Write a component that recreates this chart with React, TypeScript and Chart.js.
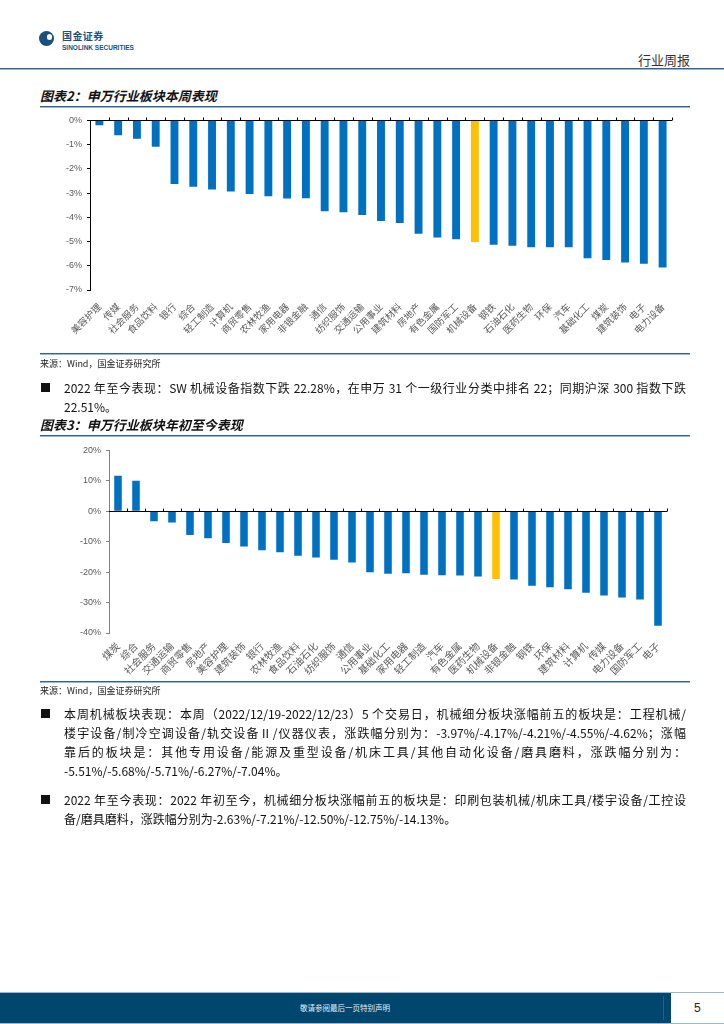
import React, { useEffect, useRef } from "react";
import { Chart, registerables } from "chart.js";

Chart.register(...registerables);

const weekCategories = ["美容护理", "传媒", "社会服务", "食品饮料", "银行", "综合", "轻工制造", "计算机", "商贸零售", "农林牧渔", "家用电器", "非银金融", "通信", "纺织服饰", "交通运输", "公用事业", "建筑材料", "房地产", "有色金属", "国防军工", "机械设备", "钢铁", "石油石化", "医药生物", "环保", "汽车", "基础化工", "煤炭", "建筑装饰", "电子", "电力设备"];
const weekValues = [-0.2, -0.61, -0.76, -1.09, -2.63, -2.74, -2.85, -2.93, -3.04, -3.13, -3.22, -3.21, -3.75, -3.79, -3.9, -4.15, -4.23, -4.68, -4.83, -4.91, -5.02, -5.13, -5.17, -5.24, -5.24, -5.24, -5.69, -5.76, -5.87, -5.92, -6.07];
const weekTicks = { min: -7, max: 0, step: 1 };

const ytdCategories = ["煤炭", "综合", "社会服务", "交通运输", "商贸零售", "房地产", "美容护理", "建筑装饰", "银行", "农林牧渔", "食品饮料", "石油石化", "纺织服饰", "通信", "公用事业", "基础化工", "家用电器", "轻工制造", "汽车", "有色金属", "医药生物", "机械设备", "非银金融", "钢铁", "环保", "建筑材料", "计算机", "传媒", "电力设备", "国防军工", "电子"];
const ytdValues = [11.7, 10.0, -3.3, -3.7, -7.8, -8.9, -10.4, -11.6, -12.8, -13.5, -14.6, -15.2, -15.9, -16.8, -20.0, -20.5, -20.4, -20.9, -21.0, -21.1, -21.4, -22.28, -22.45, -24.5, -25.0, -25.6, -26.8, -27.7, -28.3, -29.0, -37.6];
const ytdTicks = { min: -40, max: 20, step: 10 };

const highlight = "机械设备";
const BLUE = "#0070C0";
const GOLD = "#FFC000";

const zeroLinePlugin = {
  id: "zeroLine",
  afterDatasetsDraw(chart: any) {
    const { ctx, chartArea, scales } = chart;
    const x = scales.x;
    const y = scales.y;
    const y0 = Math.round(y.getPixelForValue(0)) + 0.5;
    const n = chart.data.labels.length;
    const step = x.getPixelForValue(1) - x.getPixelForValue(0);
    ctx.save();
    ctx.strokeStyle = "#000";
    ctx.lineWidth = 1;
    ctx.beginPath();
    ctx.moveTo(chartArea.left, y0);
    ctx.lineTo(chartArea.right, y0);
    for (let i = 0; i < n; i++) {
      const px = Math.round(x.getPixelForValue(i) + step / 2) + 0.5;
      ctx.moveTo(px, y0);
      ctx.lineTo(px, y0 - 3);
    }
    ctx.stroke();
    ctx.restore();
  },
};

type ChartProps = {
  left: number; top: number; width: number; height: number;
  labels: string[]; values: number[]; ticks: { min: number; max: number; step: number };
  yWidth: number; xHeight: number; padRight: number; padTop: number;
  axisColor: string; labelSize: number; labelPad: number;
};

function BarChart(p: ChartProps) {
  const ref = useRef<HTMLCanvasElement>(null);
  useEffect(() => {
    if (!ref.current) return;
    const chart = new Chart(ref.current, {
      type: "bar",
      data: {
        labels: p.labels,
        datasets: [
          {
            data: p.values,
            backgroundColor: p.labels.map((l) => (l === highlight ? GOLD : BLUE)),
            borderWidth: 0,
            categoryPercentage: 1,
            barPercentage: 0.42,
          },
        ],
      },
      options: {
        responsive: false,
        animation: false,
        devicePixelRatio: 1,
        layout: { padding: { left: 0, right: p.padRight, top: p.padTop, bottom: 0 } },
        plugins: { legend: { display: false }, tooltip: { enabled: false } },
        scales: {
          x: {
            grid: { display: false, drawTicks: false },
            border: { display: false },
            ticks: {
              autoSkip: false,
              maxRotation: 45,
              minRotation: 45,
              padding: p.labelPad,
              color: "#595959",
              font: { family: "'Noto Sans CJK SC'", size: p.labelSize },
            },
            afterFit: (s: any) => { s.height = p.xHeight; },
          },
          y: {
            min: p.ticks.min,
            max: p.ticks.max,
            grid: { drawOnChartArea: false, drawTicks: true, tickLength: 3, color: p.axisColor },
            border: { display: true, color: p.axisColor, width: 1 },
            ticks: {
              stepSize: p.ticks.step,
              padding: 5,
              color: "#595959",
              font: { family: "'Liberation Sans', Arial", size: 9 },
              callback: (v: any) => v + "%",
            },
            afterFit: (s: any) => { s.width = p.yWidth; },
          },
        },
      },
      plugins: [zeroLinePlugin],
    } as any);
    return () => chart.destroy();
  }, []);
  return (
    <canvas
      ref={ref}
      width={p.width}
      height={p.height}
      style={{ position: "absolute", left: p.left, top: p.top, width: p.width, height: p.height }}
    />
  );
}

const FONT = "'Noto Sans CJK SC', 'Noto Sans', sans-serif";

const abs = (left: number, top: number, extra: React.CSSProperties = {}): React.CSSProperties => ({
  position: "absolute", left, top, ...extra,
});

function Rule({ top, left = 40, width = 650 }: { top: number; left?: number; width?: number }) {
  return (
    <>
      <div style={abs(left, top, { width, height: 1, background: "#2f6490" })} />
      <div style={abs(left, top + 1, { width, height: 1, background: "#9bb8d0" })} />
    </>
  );
}

function JLine({ top, text, last = false }: { top: number; text: string; last?: boolean }) {
  return (
    <div
      style={abs(64, top, {
        width: 622, fontSize: 12, lineHeight: "16px", whiteSpace: "nowrap",
        textAlign: last ? "left" : "justify", textAlignLast: last ? "left" : "justify",
        color: "#111", fontFamily: FONT,
      } as any)}
    >
      {text}
    </div>
  );
}

function Bullet({ top }: { top: number }) {
  return <div style={abs(41, top + 3, { width: 9, height: 9, background: "#111" })} />;
}

export default function App() {
  return (
    <div style={{ position: "absolute", left: 0, top: 0, width: 724, height: 1024, background: "#fff", overflow: "hidden", fontFamily: FONT }}>
      {/* header logo */}
      <div style={abs(39, 31, { width: 15, height: 15, borderRadius: "50%", background: "#1b4f7c" })} />
      <div style={abs(47, 34, { width: 5, height: 6, borderRadius: 3, background: "#fff" })} />
      <div style={abs(62, 30, { fontSize: 10, fontWeight: 700, color: "#1b4f7c", letterSpacing: 0.4, lineHeight: "12px" })}>国金证券</div>
      <div style={abs(62, 44, { fontSize: 6.5, fontWeight: 700, color: "#1b4f7c", lineHeight: "7px", fontFamily: "'Liberation Sans', Arial", whiteSpace: "nowrap" })}>SINOLINK SECURITIES</div>
      <div style={abs(638, 52, { fontSize: 13, color: "#333", lineHeight: "16px", letterSpacing: 0 })}>行业周报</div>
      <div style={abs(0, 68, { width: 724, height: 1, background: "#2f6490" })} />
      <div style={abs(0, 69, { width: 724, height: 1, background: "#9bb8d0" })} />

      {/* chart 1 */}
      <div style={abs(40, 88, { fontSize: 13, fontWeight: 700, fontStyle: "italic", color: "#111", lineHeight: "16px", whiteSpace: "nowrap" })}>图表2：申万行业板块本周表现</div>
      <Rule top={106} />
      <BarChart left={40} top={110} width={650} height={245} labels={weekCategories} values={weekValues} ticks={weekTicks}
        yWidth={50} xHeight={65} padRight={18} padTop={9} axisColor="#000" labelSize={9.5} labelPad={11} />
      <Rule top={353} />
      <div style={abs(40, 358, { fontSize: 9, color: "#222", lineHeight: "12px", whiteSpace: "nowrap" })}>来源：Wind，国金证券研究所</div>

      <Bullet top={380} />
      <JLine top={380} text="2022 年至今表现：SW 机械设备指数下跌 22.28%，在申万 31 个一级行业分类中排名 22；同期沪深 300 指数下跌" />
      <JLine top={399} text="22.51%。" last />

      {/* chart 2 */}
      <div style={abs(40, 417, { fontSize: 13, fontWeight: 700, fontStyle: "italic", color: "#111", lineHeight: "16px", whiteSpace: "nowrap" })}>图表3：申万行业板块年初至今表现</div>
      <Rule top={435} />
      <BarChart left={40} top={440} width={650} height={245} labels={ytdCategories} values={ytdValues} ticks={ytdTicks}
        yWidth={69} xHeight={52} padRight={23} padTop={9} axisColor="#808080" labelSize={10} labelPad={7} />
      <Rule top={681} />
      <div style={abs(40, 685, { fontSize: 9, color: "#222", lineHeight: "12px", whiteSpace: "nowrap" })}>来源：Wind，国金证券研究所</div>

      <Bullet top={706} />
      <JLine top={706} text="本周机械板块表现：本周（2022/12/19-2022/12/23）5 个交易日，机械细分板块涨幅前五的板块是：工程机械/" />
      <JLine top={725} text="楼宇设备/制冷空调设备/轨交设备Ⅱ/仪器仪表，涨跌幅分别为：-3.97%/-4.17%/-4.21%/-4.55%/-4.62%；涨幅" />
      <JLine top={744} text="靠后的板块是：其他专用设备/能源及重型设备/机床工具/其他自动化设备/磨具磨料，涨跌幅分别为：" />
      <JLine top={763} text="-5.51%/-5.68%/-5.71%/-6.27%/-7.04%。" last />

      <Bullet top={792} />
      <JLine top={792} text="2022 年至今表现：2022 年初至今，机械细分板块涨幅前五的板块是：印刷包装机械/机床工具/楼宇设备/工控设" />
      <JLine top={811} text="备/磨具磨料，涨跌幅分别为-2.63%/-7.21%/-12.50%/-12.75%/-14.13%。" last />

      {/* footer */}
      <div style={abs(0, 992, { width: 724, height: 1, background: "#9bb8d0" })} />
      <div style={abs(0, 993, { width: 671, height: 30, background: "#00476f" })} />
      <div style={abs(663, 996, { width: 1, height: 24, background: "#25607f" })} />
      <div style={abs(0, 1023, { width: 724, height: 1, background: "#9bb8d0" })} />
      <div style={abs(0, 1002, { width: 690, textAlign: "center", fontSize: 7.5, color: "#e8eef3", lineHeight: "12px" })}>敬请参阅最后一页特别声明</div>
      <div style={abs(694, 1001, { fontSize: 12, color: "#222", lineHeight: "14px", fontFamily: "'Liberation Sans', Arial" })}>5</div>
    </div>
  );
}
